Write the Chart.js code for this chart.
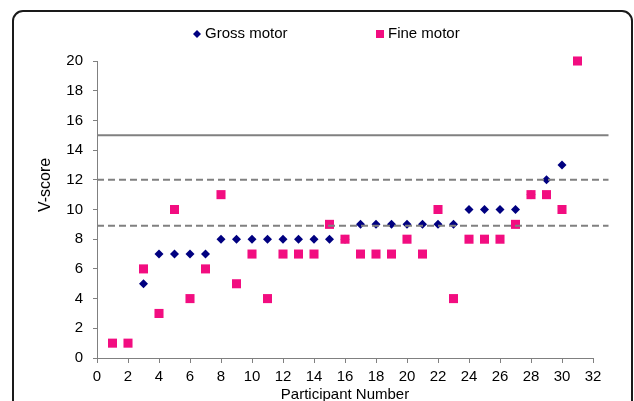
<!DOCTYPE html>
<html>
<head>
<meta charset="utf-8">
<script src="https://cdn.jsdelivr.net/npm/chart.js@4/dist/chart.umd.min.js"></script>
<style>
  html, body { margin: 0; padding: 0; background: #fff; }
  #chart { display: block; }
</style>
</head>
<body>
<canvas id="chart" width="634" height="401"></canvas>
<script>
// participants 1..31, sorted by gross motor score
const participants = [1, 2, 3, 4, 5, 6, 7, 8, 9, 10, 11, 12, 13, 14, 15, 16,
  17, 18, 19, 20, 21, 22, 23, 24, 25, 26, 27, 28, 29, 30, 31];
const grossMotor = [null, null, 5, 7, 7, 7, 7, 8, 8, 8, 8, 8, 8, 8, 8, 8,
  9, 9, 9, 9, 9, 9, 9, 10, 10, 10, 10, 11, 12, 13, null];
const fineMotor = [1, 1, 6, 3, 10, 4, 6, 11, 5, 7, 4, 7, 7, 7, 9, 8,
  7, 7, 7, 8, 7, 10, 4, 8, 8, 8, 9, 11, 11, 10, 20];

// reference levels drawn across the plot
const solidLevels = [15];
const dashedLevels = [12, 8.9];
const lineStart = 0;
const lineEnd = 33;

const xTicks = { min: 0, max: 32, step: 2 };
const yTicks = { min: 0, max: 20, step: 2 };

const fontFamily = "'Liberation Sans', Arial, sans-serif";
const navy = '#000080';
const pink = '#f20d80';
const grey = '#808080';

function toPoints(values) {
  return values
    .map((v, i) => ({ x: participants[i], y: v }))
    .filter(p => p.y !== null);
}

function levelLine(level, dashed) {
  return {
    type: 'line',
    data: [{ x: lineStart, y: level }, { x: lineEnd, y: level }],
    borderColor: grey,
    borderWidth: 2,
    borderDash: dashed ? [7, 4] : [],
    pointRadius: 0,
    showLine: true,
    clip: false,
    order: 0
  };
}

// frame, custom legend and y title
const decorPlugin = {
  id: 'decor',
  beforeDraw(chart) {
    const ctx = chart.ctx;
    ctx.save();
    ctx.fillStyle = '#fff';
    ctx.fillRect(0, 0, chart.width, chart.height);
    ctx.beginPath();
    ctx.roundRect(13, 11, 619, 430, 10);
    ctx.lineWidth = 2;
    ctx.strokeStyle = '#1a1a1a';
    ctx.stroke();
    ctx.restore();
  },
  afterDraw(chart) {
    const ctx = chart.ctx;
    ctx.save();
    ctx.font = '15px ' + fontFamily;
    ctx.textBaseline = 'middle';
    ctx.fillStyle = '#000';
    const items = [
      { ds: chart.data.datasets[0], x: 197, r: 4 },
      { ds: chart.data.datasets[1], x: 380, r: 5.7 }
    ];
    items.forEach(item => {
      ctx.fillStyle = item.ds.backgroundColor;
      Chart.helpers.drawPoint(ctx, { pointStyle: item.ds.pointStyle, radius: item.r, rotation: 0, borderWidth: 0 }, item.x, 34);
      ctx.fillStyle = '#000';
      ctx.fillText(item.ds.label, item.x + 8, 34);
    });

    ctx.translate(46, 185);
    ctx.rotate(-Math.PI / 2);
    ctx.textAlign = 'center';
    ctx.font = '16px ' + fontFamily;
    ctx.fillText('V-score', 0, 0);
    ctx.restore();
  }
};

new Chart(document.getElementById('chart'), {
  type: 'scatter',
  data: {
    datasets: [
      {
        label: 'Gross motor',
        data: toPoints(grossMotor),
        pointStyle: 'rectRot',
        pointRadius: 4.5,
        pointHoverRadius: 4.5,
        backgroundColor: navy,
        borderColor: navy,
        borderWidth: 0,
        clip: false,
        order: 2
      },
      {
        label: 'Fine motor',
        data: toPoints(fineMotor),
        pointStyle: 'rect',
        pointRadius: 6.4,
        pointHoverRadius: 6.4,
        backgroundColor: pink,
        borderColor: pink,
        borderWidth: 0,
        clip: false,
        order: 1
      },
      ...solidLevels.map(l => levelLine(l, false)),
      ...dashedLevels.map(l => levelLine(l, true))
    ]
  },
  options: {
    responsive: false,
    animation: false,
    layout: { padding: { left: 0, right: 41, top: 61, bottom: 0 } },
    plugins: {
      legend: { display: false },
      tooltip: { enabled: false }
    },
    scales: {
      x: {
        type: 'linear',
        min: xTicks.min,
        max: xTicks.max,
        ticks: { stepSize: xTicks.step, color: '#000', font: { family: fontFamily, size: 15 }, padding: 5, maxRotation: 0 },
        grid: { drawOnChartArea: false, drawTicks: true, tickLength: 5, color: grey },
        border: { color: grey, width: 1 },
        title: {
          display: true,
          text: 'Participant Number',
          color: '#000',
          font: { family: fontFamily, size: 15 },
          padding: { top: 0, bottom: -3 }
        },
        afterFit(scale) { scale.height = 43; }
      },
      y: {
        min: yTicks.min,
        max: yTicks.max,
        ticks: { stepSize: yTicks.step, color: '#000', font: { family: fontFamily, size: 15 }, padding: 10 },
        grid: { drawOnChartArea: false, drawTicks: true, tickLength: 4, color: grey },
        border: { color: grey, width: 1 },
        afterFit(scale) { scale.width = 97; }
      }
    }
  },
  plugins: [decorPlugin]
});
</script>
</body>
</html>
